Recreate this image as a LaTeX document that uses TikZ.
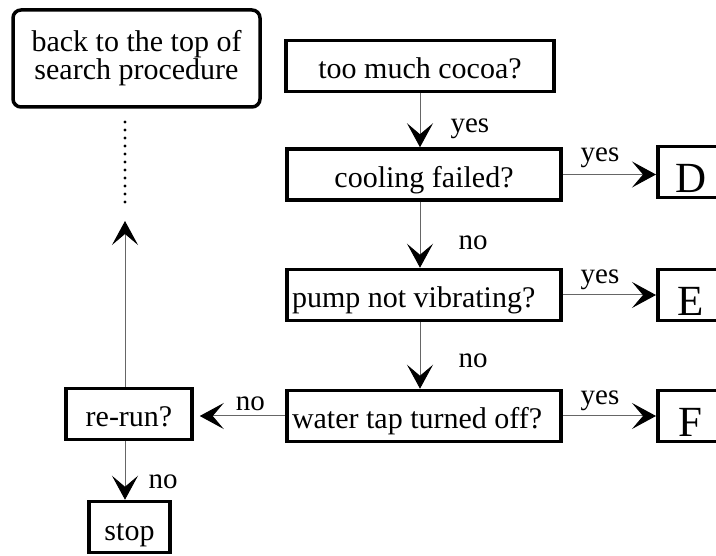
\documentclass[tikz,border=0pt]{standalone}
\usepackage{fontspec}
\setmainfont{Liberation Serif}
\usetikzlibrary{arrows.meta}

\tikzset{
  qbox/.style={draw, line width=3.5pt, rectangle, inner sep=0pt,
    minimum height=51pt, text height=26pt, text depth=0pt,
    font=\fontsize{30}{27}\selectfont},
  leftbox/.style={qbox, inner xsep=5pt, text width=264pt, align=flush left},
  endbox/.style={draw, line width=3.5pt, rectangle, anchor=west,
    inner sep=0pt, minimum width=66pt, minimum height=51pt,
    text height=41pt, text depth=0pt,
    font=\fontsize{43}{43}\selectfont},
  link/.style={draw=black!60, line width=1pt,
    -{Stealth[length=24pt,width=26pt,inset=11pt,black]}},
  ans/.style={inner sep=0pt, font=\fontsize{29}{29}\selectfont},
}

\begin{document}
\begin{tikzpicture}[x=1pt,y=-1pt]
\useasboundingbox (0,0) rectangle (716,556);
\clip (0,0) rectangle (716,556);

% the question column
\node[qbox, minimum width=268pt] (cocoa) at (420,66) {too much cocoa?};
\node[qbox, minimum width=274pt] (cooling) at (424,174.5) {cooling failed?};
\node[leftbox, minimum width=274pt] (pump) at (424,295) {pump not vibrating?};
\node[leftbox, minimum width=274pt] (water) at (424,416) {water tap turned off?};

% where a yes leads
\node[endbox] (D) at (656,172) {D};
\node[endbox] (E) at (656,295) {E};
\node[endbox] (F) at (656,416) {F};

% left branch
\node[draw, line width=3.5pt, rounded corners=8pt, minimum width=247pt,
  minimum height=97pt, align=center, font=\fontsize{30}{27}\selectfont]
  (back) at (136.5,58.5) {back to the top of\\search procedure};
\node[qbox, minimum width=126pt] (rerun) at (129,414) {re-run?};
\node[qbox, minimum width=81pt] (stop) at (129.5,527) {stop};

\coordinate (dottop) at (125,122);
\coordinate (dotend) at (125,208);
\coordinate (loopend) at (125,221);

% connectors
\draw[link] (cocoa.south) -- (cocoa.south |- cooling.north)
  node[ans, anchor=west, pos=.65, xshift=30pt] {yes};
\draw[link] (cocoa.south |- cooling.south) -- (cocoa.south |- pump.north)
  node[ans, anchor=west, pos=.62, xshift=38pt] {no};
\draw[link] (cocoa.south |- pump.south) -- (cocoa.south |- water.north)
  node[ans, anchor=west, pos=.58, xshift=38pt] {no};

\draw[link] (cooling.east) -- (cooling.east -| D.west)
  node[ans, anchor=south, pos=.4, yshift=6pt] {yes};
\draw[link] (pump.east) -- (pump.east -| E.west)
  node[ans, anchor=south, pos=.4, yshift=5pt] {yes};
\draw[link] (water.east) -- (water.east -| F.west)
  node[ans, anchor=south, pos=.4, yshift=5pt] {yes};

\draw[link, shorten >=6pt] (water.west) -- (water.west -| rerun.east)
  node[ans, anchor=south, pos=.38, yshift=5pt] {no};
\draw[link] ([xshift=-4pt]rerun.south) -- ([xshift=-4pt]rerun.south |- stop.north)
  node[ans, anchor=west, pos=.69, xshift=23pt] {no};
\draw[link] ([xshift=-4pt]rerun.north) -- (loopend);
\draw[line width=3.2pt, line cap=round, dash pattern=on 0pt off 8pt]
  (dottop) -- (dotend);
\end{tikzpicture}
\end{document}
